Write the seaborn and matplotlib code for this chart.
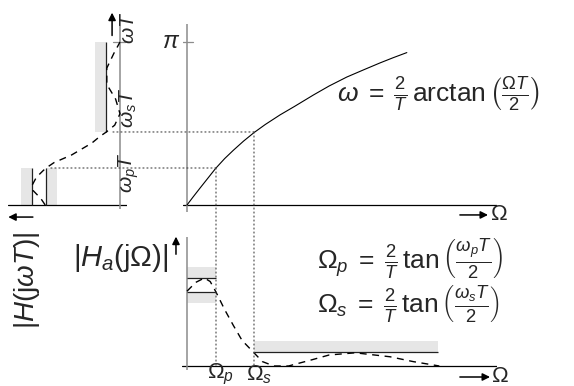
import matplotlib
matplotlib.use("Agg")
import matplotlib.pyplot as plt
from matplotlib.patches import ConnectionPatch
import seaborn as sns

# frequency mapping omega = 2/T arctan(Omega T / 2), omega in units of pi
map_Omega = [0, 0.2, 0.45, 0.7, 0.99, 1.3, 1.6, 1.95, 2.31, 2.7, 3.21, 3.7, 4.36, 4.9, 5.51, 6.1, 6.66, 7.1, 7.58]
map_omega = [0, 0.047, 0.104, 0.16, 0.225, 0.285, 0.336, 0.392, 0.444, 0.494, 0.553, 0.604, 0.675, 0.73, 0.785, 0.83, 0.872, 0.903, 0.935]

# analog response |Ha(jOmega)|
ana_Omega = [0, 0.3, 0.6, 0.8, 1.0, 1.3, 1.6, 1.9, 2.31, 2.6, 3.0, 3.5, 4.3, 4.9, 5.8, 7.0, 7.8, 8.7]
ana_mag = [0.85, 0.95, 1.0, 0.96, 0.84, 0.64, 0.46, 0.29, 0.15, 0.05, 0.0, 0.0, 0.07, 0.125, 0.15, 0.105, 0.05, 0.0]

# digital response |H(jwT)| (drawn sideways)
dig_omega = [0, 0.04, 0.09, 0.12, 0.17, 0.21, 0.227, 0.26, 0.307, 0.38, 0.42, 0.448, 0.49, 0.56, 0.65, 0.74, 0.84, 0.93, 1.0]
dig_mag = [0.85, 0.9, 0.99, 1.0, 0.95, 0.875, 0.84, 0.75, 0.55, 0.32, 0.23, 0.155, 0.06, 0.0, 0.05, 0.15, 0.15, 0.07, 0.0]

# tolerance scheme
Omega_p, Omega_s, Omega_end = 1.0, 2.31, 8.66
omega_p, omega_s = 0.227, 0.448
pass_hi, pass_lo = 1.0, 0.84
pass_tol_hi, pass_tol_lo = 1.13, 0.72
stop_hi, stop_tol = 0.155, 0.285

sns.set_style("white")
plt.rcParams['font.family'] = ['Liberation Sans', 'DejaVu Sans']
plt.rcParams['mathtext.fontset'] = 'custom'
plt.rcParams['mathtext.rm'] = 'Liberation Sans'
plt.rcParams['mathtext.it'] = 'Liberation Sans:italic'
plt.rcParams['mathtext.bf'] = 'Liberation Sans:bold'

W, H = 574, 386
fig = plt.figure(figsize=(W / 100, H / 100), dpi=100)

def place(x0, y0, sx, sy, xlim, ylim):
    left = x0 + sx * xlim[0]
    right = x0 + sx * xlim[1]
    top = y0 - sy * ylim[1]
    bottom = y0 - sy * ylim[0]
    ax = fig.add_axes([min(left, right) / W, (H - bottom) / H,
                       abs(right - left) / W, (bottom - top) / H])
    ax.set_xlim(xlim)
    ax.set_ylim(ylim)
    ax.axis('off')
    return ax

axA = place(187, 205, 29, 163, (-0.15, 10.7), (-0.045, 1.11))   # mapping
axB = place(120, 205, -88, 163, (1.27, -0.08), (-0.025, 1.17))  # digital
axC = place(187, 366, 29, 88, (-0.17, 10.7), (-0.045, 1.47))    # analog

AXC = '#8c8c8c'
GRAY = '#e6e6e6'
dash = (0, (5, 4))
arrow = dict(arrowstyle='-|>', color='black', lw=1.1, mutation_scale=11,
             shrinkA=0, shrinkB=0)

# mapping panel
axA.axhline(0, color='black', lw=0.9)
axA.axvline(0, color=AXC, lw=1.1)
axA.plot([-0.18, 0.2], [1, 1], color=AXC, lw=0.9)
sns.lineplot(x=map_Omega, y=map_omega, ax=axA, color='black', lw=0.8,
             estimator=None, sort=False)
axA.text(-0.25, 1.0, r'$\pi$', ha='right', va='center', fontsize=17)
axA.text(5.17, 0.675,
         r'$\omega\;=\;\frac{2}{T}\,\mathrm{arctan}\,\left(\frac{\Omega T}{2}\right)$',
         ha='left', va='center', fontsize=19)
axA.annotate('', xy=(10.38, -0.061), xytext=(9.41, -0.061), arrowprops=arrow,
             annotation_clip=False)
axA.text(10.74, -0.061, r'$\Omega$', ha='center', va='center', fontsize=16)

# digital panel
axB.axhline(0, color='black', lw=0.9)
axB.axvline(0, color=AXC, lw=1.1)
axB.plot([0.08, -0.06], [1, 1], color=AXC, lw=0.9)
axB.fill_betweenx([0, omega_p], pass_hi, pass_tol_hi, color=GRAY, lw=0)
axB.fill_betweenx([0, omega_p], pass_tol_lo, pass_lo, color=GRAY, lw=0)
axB.fill_betweenx([omega_s, 1.0], stop_hi, stop_tol, color=GRAY, lw=0)
axB.vlines([pass_hi, pass_lo], 0, omega_p, color='#222222', lw=0.9)
axB.vlines(stop_hi, omega_s, 1.0, color='#222222', lw=0.9)
sns.lineplot(x=dig_mag, y=dig_omega, ax=axB, color='black', lw=1.0,
             estimator=None, sort=False, linestyle=dash)
axB.text(-0.10, 1.086, r'$\omega T$', rotation=90, ha='center', va='center', fontsize=15)
axB.text(-0.10, 0.595, r'$\omega_s T$', rotation=90, ha='center', va='center', fontsize=15)
axB.text(-0.10, 0.20, r'$\omega_p T$', rotation=90, ha='center', va='center', fontsize=15)
axB.annotate('', xy=(0.09, 1.18), xytext=(0.09, 1.04), arrowprops=arrow,
             annotation_clip=False)
axB.annotate('', xy=(1.27, -0.074), xytext=(0.99, -0.074), arrowprops=arrow,
             annotation_clip=False)
axB.text(1.057, -0.46, r'$|H(\mathrm{j}\omega T)|$', rotation=90, ha='center',
         va='center', fontsize=20)

# analog panel
axC.axhline(0, color='black', lw=0.9)
axC.axvline(0, color=AXC, lw=1.1)
axC.fill_between([0, Omega_p], pass_hi, pass_tol_hi, color=GRAY, lw=0)
axC.fill_between([0, Omega_p], pass_tol_lo, pass_lo, color=GRAY, lw=0)
axC.fill_between([Omega_s, Omega_end], stop_hi, stop_tol, color=GRAY, lw=0)
axC.hlines([pass_hi, pass_lo], 0, Omega_p, color='#222222', lw=0.9)
axC.hlines(stop_hi, Omega_s, Omega_end, color='#222222', lw=0.9)
sns.lineplot(x=ana_Omega, y=ana_mag, ax=axC, color='black', lw=1.0,
             estimator=None, sort=False, linestyle=dash)
axC.text(-0.655, 1.227, r'$|H_a(\mathrm{j}\Omega)|$', ha='right', va='center', fontsize=21)
axC.annotate('', xy=(-0.38, 1.47), xytext=(-0.38, 1.27), arrowprops=arrow,
             annotation_clip=False)
axC.text(4.48, 1.227,
         r'$\Omega_p\;=\;\frac{2}{T}\,\mathrm{tan}\,\left(\frac{\omega_p T}{2}\right)$',
         ha='left', va='center', fontsize=19)
axC.text(4.48, 0.705,
         r'$\Omega_s\;=\;\frac{2}{T}\,\mathrm{tan}\,\left(\frac{\omega_s T}{2}\right)$',
         ha='left', va='center', fontsize=19)
axC.text(1.17, -0.095, r'$\Omega_p$', ha='center', va='center', fontsize=16)
axC.text(2.48, -0.095, r'$\Omega_s$', ha='center', va='center', fontsize=16)
axC.annotate('', xy=(10.45, -0.125), xytext=(9.41, -0.125), arrowprops=arrow,
             annotation_clip=False)
axC.text(10.79, -0.125, r'$\Omega$', ha='center', va='center', fontsize=16)

# dotted guide lines between the panels
dots = dict(color='#444444', lw=0.8, linestyle=(0, (1, 2.6)), arrowstyle='-')
for (Om, om, b_end) in [(Omega_p, omega_p, 0.80), (Omega_s, omega_s, 0.08)]:
    fig.add_artist(ConnectionPatch((Om, om), (Om, 0), axA.transData, axC.transData, **dots))
    fig.add_artist(ConnectionPatch((Om, om), (b_end, om), axA.transData, axB.transData, **dots))

fig.savefig('out.png', dpi=100)
